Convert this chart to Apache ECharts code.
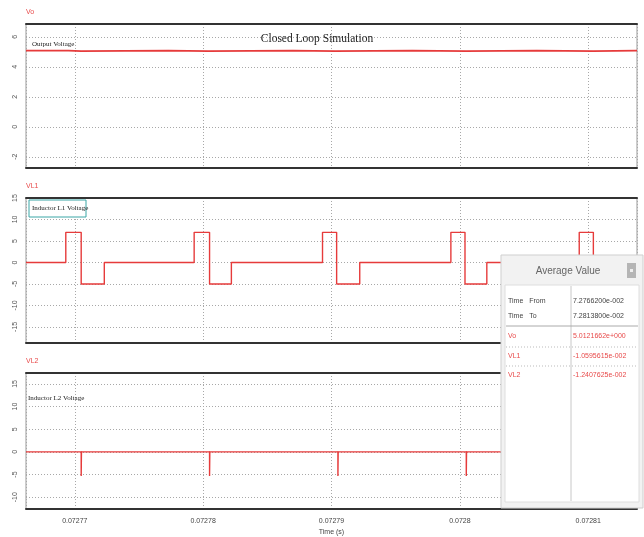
<!DOCTYPE html>
<html>
<head>
<meta charset="utf-8">
<script src="https://cdn.jsdelivr.net/npm/echarts@6/dist/echarts.min.js"></script>
<style>
  html, body { margin: 0; padding: 0; background: #fff; }
  #chart { width: 644px; height: 537px; }
</style>
</head>
<body>
<div id="chart"></div>
<script>
// time window of the scope (s)
const timeRange = [0.0727662, 0.0728138]

// each value holds from its time until the next time (step lines)
const voTime = [0.0727662, 0.0727695, 0.0727705, 0.0727773, 0.0727804, 0.0727870, 0.0727903, 0.0727963, 0.0728005, 0.0728060, 0.0728104, 0.0728138]
const voValue = [5.08, 5.04, 5.08, 5.04, 5.08, 5.04, 5.08, 5.04, 5.08, 5.04, 5.08, 5.08]

const vl1Time = [0.0727662,
  0.0727693, 0.0727705, 0.0727723,
  0.0727793, 0.0727805, 0.0727822,
  0.0727893, 0.0727904, 0.0727922,
  0.0727993, 0.0728004, 0.0728021,
  0.0728093, 0.0728104, 0.0728121,
  0.0728138]
const vl1Value = [0, 7, -5, 0, 7, -5, 0, 7, -5, 0, 7, -5, 0, 7, -5, 0, 0]

const vl2Time = [0.0727662,
  0.0727705, 0.07277052,
  0.0727805, 0.07278052,
  0.0727905, 0.07279052,
  0.0728005, 0.07280052,
  0.0728105, 0.07281052,
  0.0728138]
const vl2Value = [0, -5.3, 0, -5.3, 0, -5.3, 0, -5.3, 0, -5.3, 0, 0]

const panelNames = ['Vo', 'VL1', 'VL2']
const panelLabels = ['Output Voltage', 'Inductor L1 Voltage', 'Inductor L2 Voltage']
const yRanges = [[-2.75, 6.85], [-18.75, 15], [-12.6, 17.4]]

// average value window
const avgNames = ['Vo', 'VL1', 'VL2']
const avgValues = ['5.0121662e+000', '-1.0595615e-002', '-1.2407625e-002']
const timeFrom = '7.2766200e-002'
const timeTo = '7.2813800e-002'

const lineColor = '#e63b3b'
const gridDot = { color: '#a8a8a8', type: [1, 2], width: 1 }

const chart = echarts.init(document.getElementById('chart'))

const grids = [
  { left: 26, right: 7, top: 24, height: 144 },
  { left: 26, right: 7, top: 198, height: 145 },
  { left: 26, right: 7, top: 373, height: 138 }
].map(g => Object.assign(g, { show: true, borderColor: '#999', borderWidth: 1, backgroundColor: '#fff' }))

const xAxes = []
const yAxes = []
const series = []
const traces = [[voTime, voValue], [vl1Time, vl1Value], [vl2Time, vl2Value]]

for (let i = 0; i < 3; i++) {
  const last = i === 2
  xAxes.push({
    type: 'value',
    gridIndex: i,
    min: timeRange[0],
    max: timeRange[1],
    splitNumber: 5,
    position: 'bottom',
    axisLine: { show: true, onZero: false, lineStyle: { color: '#333', width: 2 } },
    axisTick: { show: false },
    axisLabel: {
      show: last,
      showMinLabel: false,
      showMaxLabel: false,
      fontSize: 7,
      color: '#444',
      margin: 9
    },
    splitLine: { show: true, lineStyle: gridDot },
    name: last ? 'Time (s)' : '',
    nameLocation: 'middle',
    nameGap: 20,
    nameTextStyle: { fontSize: 7, color: '#444' }
  })
  // top frame line
  xAxes.push({
    type: 'value',
    gridIndex: i,
    min: timeRange[0],
    max: timeRange[1],
    position: 'top',
    axisLine: { show: true, onZero: false, lineStyle: { color: '#333', width: 2 } },
    axisTick: { show: false },
    axisLabel: { show: false },
    splitLine: { show: false }
  })
  yAxes.push({
    type: 'value',
    gridIndex: i,
    min: yRanges[i][0],
    max: yRanges[i][1],
    splitNumber: 5,
    name: panelNames[i],
    nameLocation: 'end',
    nameGap: 8,
    nameTextStyle: { color: '#e84a4a', fontSize: 7, align: 'left' },
    axisLine: { show: false },
    axisTick: { show: false },
    axisLabel: {
      rotate: 90,
      fontSize: 7,
      color: '#555',
      margin: 7,
      showMinLabel: false,
      showMaxLabel: i === 1
    },
    splitLine: { show: true, lineStyle: gridDot }
  })
  const [ts, vs] = traces[i]
  series.push({
    name: panelNames[i],
    type: 'line',
    xAxisIndex: 2 * i,
    yAxisIndex: i,
    step: 'end',
    showSymbol: false,
    data: ts.map((t, k) => [t, vs[k]]),
    lineStyle: { color: lineColor, width: i === 0 ? 1.8 : 1.4 },
    clip: true
  })
}

const txt = (x, y, text, style) => ({
  type: 'text', x: x, y: y, z: 110,
  style: Object.assign({ text: text, fontSize: 7, fontFamily: 'Liberation Sans', fill: '#444' }, style)
})

const graphic = [
  // panel captions
  txt(32, 41, panelLabels[0], { fontFamily: 'Liberation Serif', fill: '#222' }),
  { type: 'rect', z: 105, shape: { x: 29, y: 200, width: 57, height: 17 }, style: { fill: '#fff', stroke: '#3aa6a6', lineWidth: 1 } },
  txt(32, 205, panelLabels[1], { fontFamily: 'Liberation Serif', fill: '#222' }),
  txt(28, 395, panelLabels[2], { fontFamily: 'Liberation Serif', fill: '#222' }),

  // average value window
  { type: 'rect', z: 100, shape: { x: 501, y: 255, width: 142, height: 253 }, style: { fill: '#f2f2f2', stroke: '#cfcfcf', lineWidth: 1 } },
  txt(568, 266, 'Average Value', { fontSize: 10, fill: '#666', align: 'center' }),
  { type: 'rect', z: 105, shape: { x: 627, y: 263, width: 9, height: 15 }, style: { fill: '#b5b5b5' } },
  { type: 'rect', z: 106, shape: { x: 630, y: 269, width: 3, height: 3 }, style: { fill: '#eee' } },
  { type: 'rect', z: 101, shape: { x: 505, y: 285, width: 134, height: 217 }, style: { fill: '#fff', stroke: '#dedede', lineWidth: 1 } },
  { type: 'line', z: 102, shape: { x1: 571, y1: 286, x2: 571, y2: 501 }, style: { stroke: '#c8c8c8', lineWidth: 1 } },
  { type: 'line', z: 102, shape: { x1: 506, y1: 326, x2: 638, y2: 326 }, style: { stroke: '#aaa', lineWidth: 1 } },
  { type: 'line', z: 102, shape: { x1: 506, y1: 347, x2: 638, y2: 347 }, style: { stroke: '#bbb', lineWidth: 1, lineDash: [1, 2] } },
  { type: 'line', z: 102, shape: { x1: 506, y1: 366, x2: 638, y2: 366 }, style: { stroke: '#bbb', lineWidth: 1, lineDash: [1, 2] } },
  txt(508, 298, 'Time   From'),
  txt(573, 298, timeFrom),
  txt(508, 313, 'Time   To'),
  txt(573, 313, timeTo)
]
avgNames.forEach((n, k) => {
  graphic.push(txt(508, 333 + k * 19.5, n, { fill: '#e84a4a' }))
  graphic.push(txt(573, 333 + k * 19.5, avgValues[k], { fill: '#e84a4a' }))
})

chart.setOption({
  animation: false,
  backgroundColor: '#fff',
  title: {
    text: 'Closed Loop Simulation',
    left: 312,
    top: 28,
    textAlign: 'center',
    textStyle: { fontFamily: 'Liberation Serif', fontSize: 11.5, fontWeight: 'normal', color: '#222' }
  },
  grid: grids,
  xAxis: xAxes,
  yAxis: yAxes,
  series: series,
  graphic: graphic
})
</script>
</body>
</html>
